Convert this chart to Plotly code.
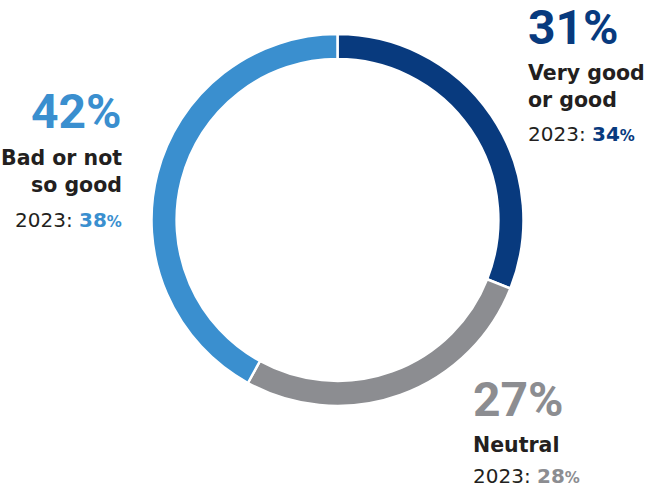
import plotly.graph_objects as go

# Survey shares (current year) and comparison values from 2023
categories = ["Very good or good", "Neutral", "Bad or not so good"]
label_lines = [["Very good", "or good"], ["Neutral"], ["Bad or not", "so good"]]
values_current = [31, 27, 42]
values_2023 = [34, 28, 38]
colors = ["#083A7E", "#8C8D91", "#3A8FCF"]

W, H = 650, 491
TEXT_DARK = "#231F20"
FONT_BIG = "Roboto"
FONT_LABEL = "DejaVu Sans"

# Ring geometry in pixels
cx, cy, r_out = 337.5, 220, 186

fig = go.Figure(go.Pie(
    labels=categories,
    values=values_current,
    marker=dict(colors=colors, line=dict(color="white", width=2.5)),
    hole=0.865,
    sort=False,
    direction="clockwise",
    rotation=0,
    textinfo="none",
    hoverinfo="skip",
    showlegend=False,
    domain=dict(x=[(cx - r_out) / W, (cx + r_out) / W],
                y=[1 - (cy + r_out) / H, 1 - (cy - r_out) / H]),
))


def px(x, y):
    return x / W, 1 - y / H


annotations = []


def add_text(text, x, baseline, size, color, bold, anchor, family):
    ax, ay = px(x, baseline - 0.36 * size)
    annotations.append(dict(
        text=text, x=ax, y=ay, xref="paper", yref="paper",
        xanchor=anchor, yanchor="middle", showarrow=False,
        font=dict(family=family, size=size, color=color,
                  weight=700 if bold else 400),
    ))


# Label blocks: (x, anchor, baseline of big number, label line baselines, baseline of 2023 line)
blocks = [
    (526, "left", 45, [80, 107], 141),
    (471, "left", 417, [452], 483),
    (124, "right", 129, [165, 192], 227),
]

for i, (x, anchor, b_big, b_lines, b_prev) in enumerate(blocks):
    add_text(f"{values_current[i]}%", x, b_big, 48, colors[i], True, anchor, FONT_BIG)
    for line, b in zip(label_lines[i], b_lines):
        add_text(line, x, b, 20.5, TEXT_DARK, True, anchor, FONT_LABEL)
    prev = (f"2023: <span style='color:{colors[i]}; font-weight:700'>{values_2023[i]}</span>"
            f"<span style='color:{colors[i]}; font-weight:700; font-size:15px'>%</span>")
    add_text(prev, x, b_prev, 20, TEXT_DARK, False, anchor, FONT_LABEL)

fig.update_layout(
    width=W, height=H,
    margin=dict(l=0, r=0, t=0, b=0),
    paper_bgcolor="white",
    plot_bgcolor="white",
    annotations=annotations,
)

fig.write_html("out.html")
